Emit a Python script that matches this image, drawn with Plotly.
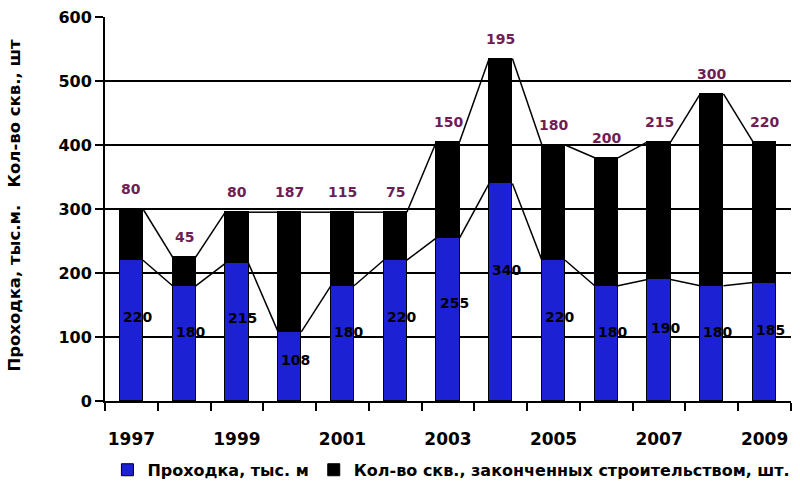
import plotly.graph_objects as go

# Data
years = [1997, 1998, 1999, 2000, 2001, 2002, 2003, 2004, 2005, 2006, 2007, 2008, 2009]
drilling = [220, 180, 215, 108, 180, 220, 255, 340, 220, 180, 190, 180, 185]   # Проходка, тыс. м
wells = [80, 45, 80, 187, 115, 75, 150, 195, 180, 200, 215, 300, 220]          # Кол-во скв., шт.
year_labels = ["1997", "1999", "2001", "2003", "2005", "2007", "2009"]

BAR_W = 0.44
BLUE = "#1c22d4"
PURPLE = "#6e1d55"
FONT = "DejaVu Sans, Verdana, sans-serif"

totals = [d + w for d, w in zip(drilling, wells)]

fig = go.Figure()

fig.add_trace(go.Bar(
    x=years, y=drilling, width=BAR_W, name="<b>Проходка, тыс. м</b>",
    marker=dict(color=BLUE, line=dict(color="black", width=1)),
))
fig.add_trace(go.Bar(
    x=years, y=wells, width=BAR_W, name="<b>Кол-во скв., законченных строительством, шт.</b>",
    marker=dict(color="black", line=dict(color="black", width=1)),
))

# Series lines joining the segment tops of neighbouring bars
def series_lines(tops):
    xs, ys = [], []
    for i in range(len(years) - 1):
        xs += [years[i] + BAR_W / 2, years[i + 1] - BAR_W / 2, None]
        ys += [tops[i], tops[i + 1], None]
    return xs, ys

for tops in (drilling, totals):
    lx, ly = series_lines(tops)
    fig.add_trace(go.Scatter(
        x=lx, y=ly, mode="lines", showlegend=False, hoverinfo="skip",
        line=dict(color="black", width=1.5),
    ))

# Value labels
for yr, d, t, w in zip(years, drilling, totals, wells):
    fig.add_annotation(
        x=yr, y=d * 0.6, text=f"<b>{d}</b>", showarrow=False, xshift=6,
        font=dict(family=FONT, size=14, color="black"),
    )
    fig.add_annotation(
        x=yr, y=t, text=f"<b>{w}</b>", showarrow=False, yshift=20,
        font=dict(family=FONT, size=14, color=PURPLE),
    )

# Year labels on a companion axis (ticks sit between categories)
fig.add_trace(go.Scatter(x=[years[0], years[-1]], y=[None, None], xaxis="x2",
                         showlegend=False, hoverinfo="skip"))

fig.add_annotation(
    xref="paper", yref="paper", x=-0.132, xanchor="center", y=0.51, textangle=-90, showarrow=False,
    text="<b>Проходка, тыс.м.&nbsp;&nbsp;&nbsp;Кол-во скв., шт</b>",
    font=dict(family=FONT, size=16.5, color="black"),
)

x_range = [years[0] - 0.5, years[-1] + 0.5]
fig.update_layout(
    width=800, height=484,
    margin=dict(l=105, r=9, t=17, b=83, autoexpand=False),
    paper_bgcolor="white", plot_bgcolor="white",
    barmode="stack", bargap=0,
    font=dict(family=FONT, color="black"),
    xaxis=dict(
        range=x_range, automargin=False,
        tickvals=[y + 0.5 for y in [years[0] - 1] + years],
        ticktext=[""] * (len(years) + 1),
        ticks="outside", ticklen=8, tickwidth=1.5, tickcolor="black",
        showline=True, linecolor="black", linewidth=2,
        showgrid=False, zeroline=False,
    ),
    xaxis2=dict(
        overlaying="x", side="bottom", range=x_range, automargin=False,
        tickvals=[int(s) for s in year_labels],
        ticktext=[f"<b>{s}</b>" for s in year_labels],
        showline=False, showgrid=False, zeroline=False, ticks="",
        tickfont=dict(family=FONT, size=17, color="black"),
        ticklabelstandoff=26,
    ),
    yaxis=dict(
        range=[0, 600], automargin=False, tickvals=[0, 100, 200, 300, 400, 500, 600],
        ticktext=[f"<b>{v}</b>" for v in [0, 100, 200, 300, 400, 500, 600]],
        tickfont=dict(family=FONT, size=16, color="black"),
        ticks="outside", ticklen=8, tickwidth=1.5, tickcolor="black",
        showline=True, linecolor="black", linewidth=2,
        showgrid=True, gridcolor="black", gridwidth=1.5,
        zeroline=False,
    ),
    legend=dict(
        orientation="h", x=0.505, xanchor="center", y=-0.135, yanchor="top",
        traceorder="normal",
        font=dict(family=FONT, size=16, color="black"),
        itemwidth=30, tracegroupgap=0,
    ),
)

fig.write_html("out.html")
